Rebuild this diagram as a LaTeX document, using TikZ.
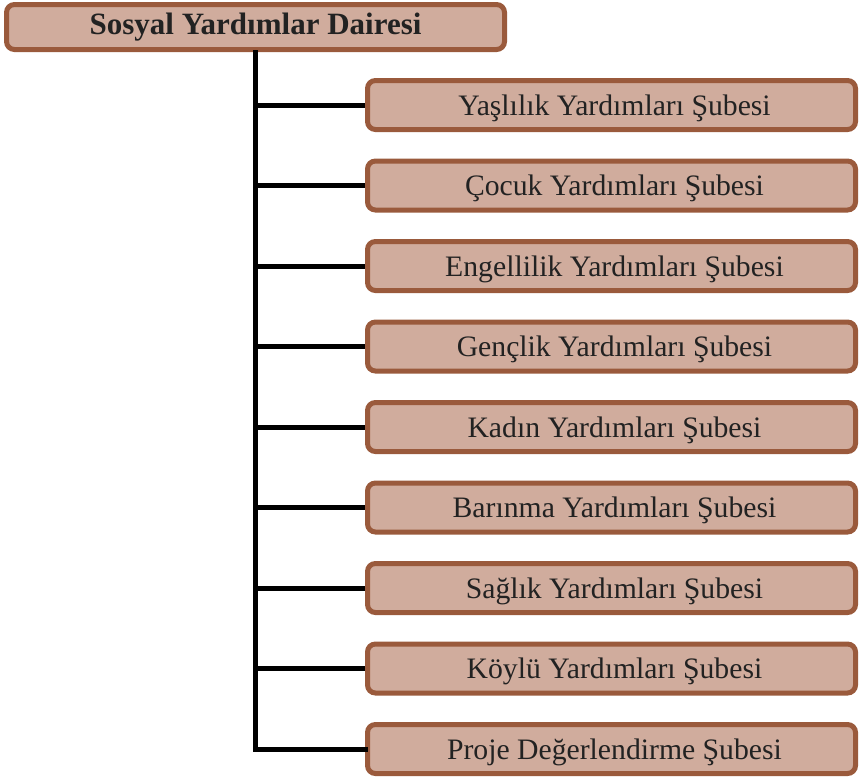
\documentclass[tikz,border=0pt]{standalone}
\usepackage{fontspec}
\setmainfont{Liberation Serif}
\definecolor{boxfill}{HTML}{D0AC9D}
\definecolor{boxline}{HTML}{9A5A3C}
\definecolor{txt}{HTML}{222222}
\newcommand{\subtext}[1]{\raisebox{-10pt}[0pt][0pt]{\hspace{6pt}#1}}
\begin{document}
\begin{tikzpicture}[x=1pt,y=1pt,
  orgbox/.style={draw=boxline, fill=boxfill, line width=5pt, rounded corners=8pt,
    inner sep=0pt, text=txt, font=\fontsize{29.7}{33}\selectfont},
  topbox/.style={orgbox, minimum width=498pt, minimum height=45pt, font=\fontsize{31}{34}\selectfont\bfseries},
  subbox/.style={orgbox, minimum width=488pt, minimum height=49pt},
  link/.style={line width=5pt, black}]
\useasboundingbox (0,0) rectangle (859,-777);
\node[topbox] (top) at (255.5,-27) {Sosyal Yardımlar Dairesi};
\foreach \i/\t in {1/Yaşlılık Yardımları Şubesi, 2/Çocuk Yardımları Şubesi,
  3/Engellilik Yardımları Şubesi, 4/Gençlik Yardımları Şubesi,
  5/Kadın Yardımları Şubesi, 6/Barınma Yardımları Şubesi,
  7/Sağlık Yardımları Şubesi, 8/Köylü Yardımları Şubesi,
  9/Proje Değerlendirme Şubesi}{
  \node[subbox] (c\i) at (611.5,{-105-80.5*(\i-1)}) {\subtext{\t}};
}
\draw[link, line cap=rect] (top.south) -- (top.south |- c9.west) -- (c9.west);
\foreach \i in {1,...,8}{
  \draw[link] (top.south |- c\i.west) -- (c\i.west);
}
\end{tikzpicture}
\end{document}
